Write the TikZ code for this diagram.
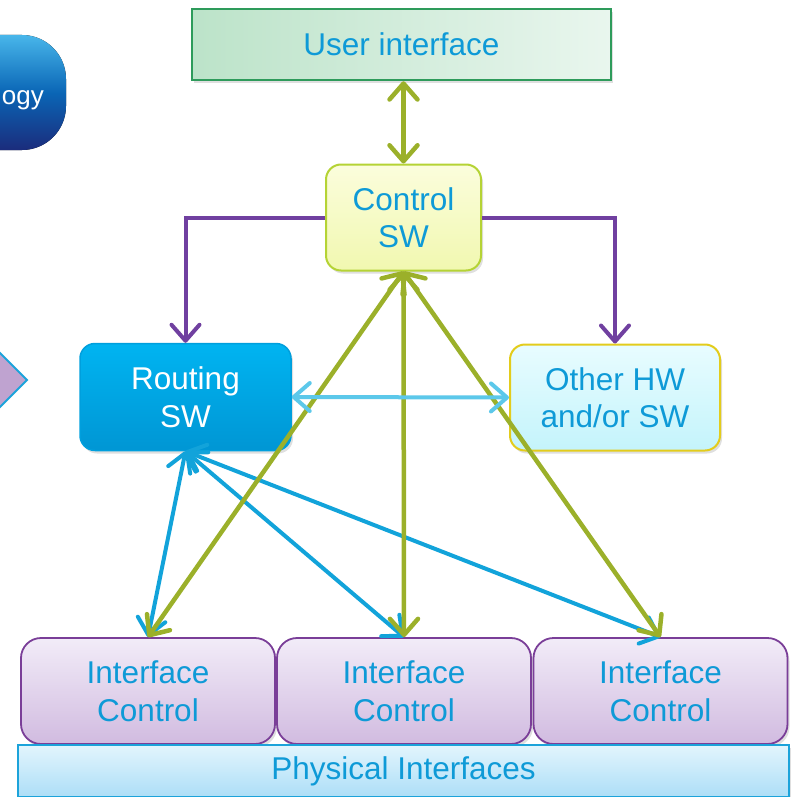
\documentclass[tikz,border=0pt]{standalone}
\usepackage{fontspec}
\setmainfont{Liberation Sans}
\usetikzlibrary{arrows.meta,shadows}
\definecolor{txtblue}{HTML}{0E9AD7}
\definecolor{garr}{HTML}{9BB02A}
\definecolor{parr}{HTML}{7040A0}
\definecolor{barr}{HTML}{12A3DA}
\definecolor{carr}{HTML}{5CC8EA}
\definecolor{uiL}{HTML}{BCE3C9}
\definecolor{uiR}{HTML}{E9F6EE}
\definecolor{uiB}{HTML}{2E9B5B}
\definecolor{ctT}{HTML}{FBFDDC}
\definecolor{ctB}{HTML}{F1F8B0}
\definecolor{ctD}{HTML}{B5D335}
\definecolor{rtT}{HTML}{00B4F1}
\definecolor{rtB}{HTML}{0096D4}
\definecolor{rtD}{HTML}{009FDD}
\definecolor{otT}{HTML}{E8FCFF}
\definecolor{otB}{HTML}{C4F4FB}
\definecolor{otD}{HTML}{E3CC1C}
\definecolor{icT}{HTML}{F2ECF8}
\definecolor{icB}{HTML}{D1BBE0}
\definecolor{icD}{HTML}{7A3E98}
\definecolor{phT}{HTML}{E2F5FD}
\definecolor{phB}{HTML}{ADDEF7}
\definecolor{phD}{HTML}{1CA3DA}
\definecolor{ogT}{HTML}{48B6EA}
\definecolor{ogM}{HTML}{0A66B6}
\definecolor{ogB}{HTML}{1B2C7C}
\definecolor{diaF}{HTML}{BFA3D0}
\begin{document}
\begin{tikzpicture}[x=1pt,y=-1pt,
  box/.style={inner sep=0pt, align=center, text=txtblue,
    font=\fontsize{31.5}{37.5}\selectfont,
    drop shadow={opacity=0.25, shadow xshift=2pt, shadow yshift=-3pt}},
  uibox/.style={box, draw=uiB, line width=2.5pt, left color=uiL, right color=uiR,
    minimum width=419pt, minimum height=71pt},
  ctbox/.style={box, draw=ctD, line width=2pt, top color=ctT, bottom color=ctB,
    rounded corners=15pt, minimum width=155pt, minimum height=106pt},
  rtbox/.style={box, draw=rtD, line width=1.5pt, top color=rtT, bottom color=rtB,
    rounded corners=15pt, minimum width=211pt, minimum height=107pt, text=white},
  otbox/.style={box, draw=otD, line width=2pt, top color=otT, bottom color=otB,
    rounded corners=15pt, minimum width=210pt, minimum height=106pt},
  icbox/.style={box, draw=icD, line width=1.8pt, top color=icT, bottom color=icB,
    rounded corners=20pt, minimum width=254pt, minimum height=106pt},
  phbox/.style={box, draw=phD, line width=1.8pt, top color=phT, bottom color=phB,
    minimum width=771pt, minimum height=52pt},
  barb/.tip={Straight Barb[length=16pt,width=28pt,round]},
  garrow/.style={draw=garr, line width=4.5pt, barb-barb},
  barrow/.style={draw=barr, line width=4pt, barb-barb},
  carrow/.style={draw=carr, line width=4pt, barb-barb},
  parrow/.style={draw=parr, line width=4pt, -barb}
]
\useasboundingbox (0,0) rectangle (794,797);

% left decorations (cropped)
\fill[top color=ogT, bottom color=ogB, middle color=ogM, rounded corners=44pt]
  (-90,35) rectangle (66,150);
\node[anchor=east, text=white, inner sep=0pt,
  font=\fontsize{26}{30}\selectfont] (og) at (44,100) {ogy};
\filldraw[fill=diaF, draw=phD, line width=1.8pt]
  (-12,341) -- (27,380) -- (-12,419) -- cycle;

% nodes
\node[uibox] (ui) at (401.5,44.5) {User interface};
\node[ctbox] (ctrl) at (403.5,217.5) {Control\\SW};
\node[rtbox] (route) at (185.5,397) {Routing\\SW};
\node[otbox] (other) at (615,397.5) {Other HW\\and/or SW};
\node[icbox] (ic1) at (148,691) {Interface\\Control};
\node[icbox] (ic2) at (404,691) {Interface\\Control};
\node[icbox] (ic3) at (660.5,691) {Interface\\Control};
\node[phbox] (phys) at (403.5,771) {Physical Interfaces};

% connectors
\draw[garrow] (ctrl.north |- ui.south) -- (ctrl.north);
\draw[parrow] (ctrl.west) -| (route.north);
\draw[parrow] (ctrl.east) -| (other.north);

\draw[barrow] (route.south) -- (ic1.north);
\draw[barrow] (route.south) -- (ic2.north);
\draw[barrow] (route.south) -- (ic3.north);

\draw[garrow] (ctrl.south) -- (ic1.north);
\draw[garrow] (ctrl.south) -- (ic2.north);
\draw[garrow] (ctrl.south) -- (ic3.north);

\draw[carrow] (route.east) -- (other.west);
\end{tikzpicture}
\end{document}
